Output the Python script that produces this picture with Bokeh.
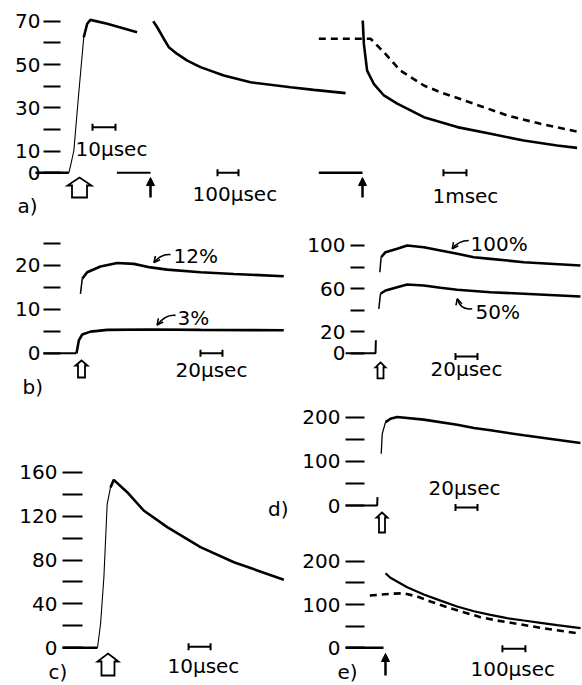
from bokeh.plotting import figure
from bokeh.layouts import column, row
from bokeh.models import Range1d, FixedTicker, Arrow, NormalHead, OpenHead
from bokeh.core.properties import value
from bokeh.embed import file_html
from bokeh.resources import INLINE

FONT = "DejaVu Sans"

# ---------------- data (time, value) ----------------
# a) 10 usec trace
a1_t = [-14.5, 0, 0.7, 2.2, 4.3, 6.5, 8.0, 9.4, 16.7, 29.7]
a1_v = [0, 0, 3.0, 10.3, 36.5, 62.6, 68.8, 70.6, 68.8, 64.9]
# a) 100 usec trace
a2_t = [13, 32, 63, 87, 127, 175, 238, 349, 476, 667, 778, 929]
a2_v = [70, 67.2, 61.9, 58, 54.9, 51.8, 48.8, 44.9, 41.8, 39.5, 38.3, 36.8]
a2_base_t = [-160, 0]
a2_base_v = [0, 0]
# a) 1 msec traces (ms)
a3_t = [0.01, 0.06, 0.2, 0.49, 0.93, 1.51, 2.67, 4.12, 5.57, 7.01, 8.46, 9.33]
a3_v = [70.3, 59.5, 47.2, 41.1, 35.7, 31.9, 25.7, 21.1, 18.0, 14.9, 12.6, 11.5]
a3d_t = [-1.9, 0.35, 0.93, 1.65, 2.67, 3.39, 4.84, 6.29, 7.74, 9.48]
a3d_v = [61.9, 61.9, 55.7, 47.2, 40.3, 37.2, 31.9, 26.5, 22.6, 18.7]
a3_base_t = [-1.9, 0]
a3_base_v = [0, 0]
a_ticks = [0, 10, 20, 30, 40, 50, 60, 70]
a_labels = [0, 10, 30, 50, 70]

# b) left
b1_base_t = [-31, -0.9]
b1_base_v = [0, 0]
b1_3_t = [-0.9, 1.2, 4.3, 11.8, 27, 66, 112, 187.5]
b1_3_v = [0, 2.9, 4.25, 4.9, 5.3, 5.4, 5.3, 5.2]
b1_12_t = [2.7, 4.3, 8.8, 20.9, 36.1, 51.2, 66.4, 81.5, 111.8, 142, 187.5]
b1_12_v = [13.5, 16.9, 18.4, 19.7, 20.5, 20.3, 19.5, 19.0, 18.4, 18.0, 17.5]
b1_ticks = [0, 5, 10, 15, 20, 25]
b1_labels = [0, 10, 20]

# b) right
b2_base_t = [-29, -1.8, -1.5]
b2_base_v = [0, 0, 12]
b2_100_t = [2.1, 3.3, 7.3, 17.9, 27, 42, 57.3, 72.5, 87.6, 102.7, 133, 184.5]
b2_100_v = [75.2, 89.1, 93.8, 96.9, 100, 98.4, 95.4, 92.3, 89.1, 87.6, 84.5, 81.4]
b2_50_t = [1.2, 2.7, 7.3, 17.9, 27, 42, 57.3, 72.5, 102.7, 133, 184.5]
b2_50_v = [41.2, 55.2, 58.2, 61.3, 63.8, 62.9, 60.7, 58.9, 56.6, 55.2, 52.6]
b2_ticks = [0, 20, 40, 60, 80, 100]
b2_labels = [0, 20, 60, 100]

# c)
c_t = [-15.9, 0, 1.4, 2.9, 4.4, 5.9, 7.4, 13.5, 21, 31.7, 46.8, 62, 84.7]
c_v = [0, 0, 21.9, 64, 131, 146, 153, 141.8, 125.1, 109.9, 91.7, 78, 62]
c_ticks = [0, 20, 40, 60, 80, 100, 120, 140, 160]
c_labels = [0, 40, 80, 120, 160]

# d)
d_base_t = [-29, -0.3, 0]
d_base_v = [0, 0, 19]
d_t = [3.4, 4.3, 7.3, 11.8, 17.9, 42, 72.5, 87.6, 102.7, 133, 184.5]
d_v = [117, 162.1, 188.9, 196.5, 200.3, 194.4, 183, 175.4, 170.2, 158.9, 141.4]
d_ticks = [0, 50, 100, 150, 200]
d_labels = [0, 100, 200]

# e)
e_base_t = [-165, 0]
e_base_v = [0, 0]
e_t = [8.7, 30, 103, 175, 248, 320, 393, 465, 537, 610, 683, 755, 857]
e_v = [172.3, 161.7, 140, 123, 109, 95.4, 84.5, 76.2, 68.4, 63, 57.7, 52.2, 45.3]
ed_t = [-59.6, 30, 88, 146, 204, 277, 349, 422, 494, 581, 683, 784, 857]
ed_v = [120.8, 124.7, 126, 118.5, 107, 93.8, 82.2, 70.7, 63, 55.4, 46.2, 38.4, 32.3]
e_ticks = [0, 50, 100, 150, 200]
e_labels = [0, 100, 200]

TW = 2.6   # trace width
THIN = 1.1


def make_fig(w, h, xr, yr, axis_x, ticks, labeled, tick_len, standoff):
    p = figure(width=w, height=h, x_range=Range1d(*xr), y_range=Range1d(*yr),
               output_backend="svg", toolbar_location=None,
               x_axis_location=None, y_axis_location="left", min_border=0)
    p.outline_line_color = None
    p.grid.visible = False
    p.background_fill_color = "white"
    p.border_fill_color = "white"
    ax = p.yaxis[0]
    ax.fixed_location = axis_x
    ax.ticker = FixedTicker(ticks=ticks, minor_ticks=[])
    ax.major_label_overrides = {t: (str(t) if t in labeled else "") for t in ticks}
    ax.axis_line_color = None
    ax.major_tick_in = 0
    ax.major_tick_out = tick_len
    ax.major_tick_line_width = 2
    ax.major_tick_line_color = "black"
    ax.minor_tick_line_color = None
    ax.major_label_standoff = standoff
    ax.major_label_text_font = FONT
    ax.major_label_text_font_size = "20px"
    ax.major_label_text_color = "black"
    return p


def txt(p, x, y, s, size="20px", align="left", **kw):
    p.text(x=[x], y=[y], text=[s], text_font=value(FONT), text_font_size=size,
           text_align=align, text_baseline="middle", text_color="black", **kw)


def bar(p, x0, x1, y, **kw):
    p.segment(x0=[x0], y0=[y], x1=[x1], y1=[y], line_width=2, line_color="black", **kw)
    p.scatter(x=[x0, x1], y=[y, y], marker="dash", angle=1.5708, size=7,
              line_width=2, line_color="black", **kw)


def small_arrow(p, x, y0, y1, **kw):
    p.add_layout(Arrow(end=NormalHead(size=8, fill_color="black", line_color="black"),
                       x_start=x, y_start=y0, x_end=x, y_end=y1,
                       line_width=2.5, line_color="black", **kw))


def curl(p, x0, y0, cx, cy, x1, y1):
    p.quadratic(x0=[x0], y0=[y0], cx=[cx], cy=[cy], x1=[x1], y1=[y1],
                line_width=1.6, line_color="black")
    p.add_layout(Arrow(end=OpenHead(size=6, line_width=1.6, line_color="black"),
                       x_start=cx, y_start=cy, x_end=x1, y_end=y1,
                       line_alpha=0))


def hollow_arrow(p, t, v, w_head, h_head, w_body, h_body):
    """Outlined block arrow (pointing up); apex at (t, v); sizes in pixels."""
    kx = p.width / (p.x_range.end - p.x_range.start)
    ky = p.height / (p.y_range.end - p.y_range.start)
    dx = [0, w_head / 2, w_body / 2, w_body / 2, -w_body / 2, -w_body / 2, -w_head / 2]
    dy = [0, h_head, h_head, h_head + h_body, h_head + h_body, h_head, h_head]
    p.patch([t + a / kx for a in dx], [v - b / ky for b in dy],
            fill_color="white", line_color="black", line_width=1.8,
            line_join="miter")


# ---------------- a) ----------------
pa = make_fig(582, 220, (-29.70, 223.35), (-22.02, 79.55), -3.61, a_ticks, a_labels, 17, 3)
pa.extra_x_ranges = {"s2": Range1d(-714.3, 2057.1), "s3": Range1d(-15.739, 9.565)}
pa.line(a1_t[:2], a1_v[:2], line_width=TW, line_color="black")
pa.line(a1_t[1:7], a1_v[1:7], line_width=THIN, line_color="black")
pa.line(a1_t[5:], a1_v[5:], line_width=TW, line_color="black")
pa.line(a2_base_t, a2_base_v, line_width=2, line_color="black", x_range_name="s2")
pa.line(a2_t, a2_v, line_width=TW, line_color="black", x_range_name="s2")
pa.line(a3_base_t, a3_base_v, line_width=2.5, line_color="black", x_range_name="s3")
pa.line(a3_t, a3_v, line_width=TW, line_color="black", x_range_name="s3")
pa.line(a3d_t, a3d_v, line_width=TW, line_color="black", line_dash="7 5", x_range_name="s3")
hollow_arrow(pa, 4.65, -2.17, 24, 8, 15, 12)
small_arrow(pa, 0, -11.4, -2.2, x_range_name="s2")
small_arrow(pa, 0, -11.4, -2.2, x_range_name="s3")
bar(pa, 10.3, 20.3, 21.05)
txt(pa, 2.9, 11.2, "10µsec")
bar(pa, 319, 419, 0, x_range_name="s2")
txt(pa, 200, -10, "100µsec", x_range_name="s2")
bar(pa, 3.52, 4.52, 0, x_range_name="s3")
txt(pa, 3.04, -10.5, "1msec", x_range_name="s3")
txt(pa, -22.3, -15.1, "a)")

# ---------------- b) left ----------------
pb1 = make_fig(290, 180, (-70.0, 193.64), (-10.75, 30.16), -15.45, b1_ticks, b1_labels, 17, 3)
pb1.line(b1_base_t, b1_base_v, line_width=2, line_color="black")
pb1.line(b1_3_t, b1_3_v, line_width=TW, line_color="black")
pb1.line(b1_12_t[:2], b1_12_v[:2], line_width=1.5, line_color="black")
pb1.line(b1_12_t[1:], b1_12_v[1:], line_width=TW, line_color="black")
hollow_arrow(pb1, 3.64, -1.66, 12, 5, 7, 12)
txt(pb1, 87.3, 22, "12%")
curl(pb1, 84.5, 22.4, 76, 22.6, 69.5, 20.6)
txt(pb1, 90.9, 8.1, "3%")
curl(pb1, 89.1, 8.6, 80, 8.9, 72.4, 6.4)
bar(pb1, 111.8, 131.8, 0)
txt(pb1, 89.1, -3.9, "20µsec")
txt(pb1, -50, -7.6, "b)")

# ---------------- b) right ----------------
pb2 = make_fig(292, 180, (-79.09, 186.36), (-43.92, 123.21), -11.82, b2_ticks, b2_labels, 14, 5)
pb2.line(b2_base_t, b2_base_v, line_width=2, line_color="black")
pb2.line(b2_100_t[:2], b2_100_v[:2], line_width=1.5, line_color="black")
pb2.line(b2_100_t[1:], b2_100_v[1:], line_width=TW, line_color="black")
pb2.line(b2_50_t[:2], b2_50_v[:2], line_width=1.5, line_color="black")
pb2.line(b2_50_t[1:], b2_50_v[1:], line_width=TW, line_color="black")
hollow_arrow(pb2, 2.73, -8.6, 10, 5, 6, 11)
txt(pb2, 84.5, 101, "100%")
curl(pb2, 83, 104.6, 73.6, 104.6, 68, 97)
txt(pb2, 89.1, 37.8, "50%")
curl(pb2, 86.1, 41.2, 75.5, 39.6, 72.5, 50.5)
bar(pb2, 70.9, 90.9, -3)
txt(pb2, 48.2, -15.1, "20µsec")

# ---------------- c) ----------------
pc = make_fig(292, 285, (-44.09, 88.64), (-34.35, 225.33), -6.82, c_ticks, c_labels, 20, 5)
pc.line(c_t[:2], c_v[:2], line_width=2.5, line_color="black")
pc.line(c_t[1:7], c_v[1:7], line_width=THIN, line_color="black")
pc.line(c_t[5:], c_v[5:], line_width=TW, line_color="black")
hollow_arrow(pc, 4.77, -5.2, 21, 8, 13, 14)
bar(pc, 41.4, 51.4, 1)
txt(pc, 31.8, -17.0, "10µsec")
txt(pc, -22.3, -22.5, "c)")
txt(pc, 77.5, 126.9, "d)")

# ---------------- d) ----------------
pd_ = make_fig(290, 143, (-77.27, 186.36), (-86.03, 237.72), -11.82, d_ticks, d_labels, 19, 5)
pd_.line(d_base_t, d_base_v, line_width=2, line_color="black")
pd_.line(d_t[:3], d_v[:3], line_width=1.3, line_color="black")
pd_.line(d_t[2:], d_v[2:], line_width=TW, line_color="black")
hollow_arrow(pd_, 4.09, -15.8, 11, 5, 6, 15)
txt(pd_, 46.4, 38.5, "20µsec")
bar(pd_, 70.9, 90.9, -4.5)

# ---------------- e) ----------------
pe = make_fig(290, 142, (-395.65, 865.2), (-87.07, 240.88), -82.6, e_ticks, e_labels, 19, 5)
pe.line(e_base_t, e_base_v, line_width=2.5, line_color="black")
pe.line(e_t, e_v, line_width=2.2, line_color="black")
pe.line(ed_t, ed_v, line_width=TW, line_color="black", line_dash="7 5")
small_arrow(pe, 8.7, -64, -13.2)
bar(pe, 517, 617, -2)
txt(pe, 378, -48.3, "100µsec")
txt(pe, -200, -57, "e)")

layout = column(pa, row(pb1, pb2), row(pc, column(pd_, pe)))
open("out.html", "w").write(file_html(layout, INLINE))
